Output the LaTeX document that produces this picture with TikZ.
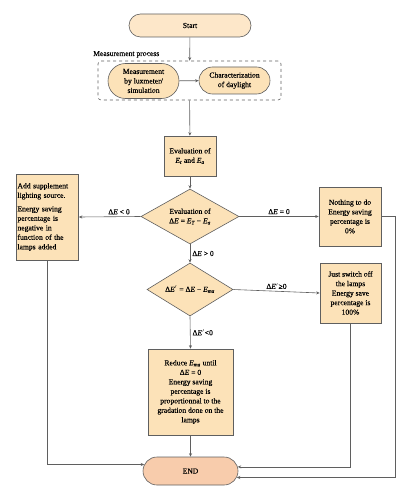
\documentclass[tikz,border=0pt]{standalone}
\usepackage{fontspec}
\setmainfont{Liberation Serif}
\newfontfamily\boxfont{Liberation Serif}[FakeBold=0.35]
\usetikzlibrary{shapes.geometric,shapes.misc,arrows.meta}
\definecolor{boxfill}{RGB}{252,226,184}
\definecolor{startfill}{RGB}{253,231,201}
\definecolor{endfill}{RGB}{248,204,172}
\definecolor{edge}{RGB}{95,95,95}
\newcommand{\en}[1]{\textit{E\textsubscript{#1}}}
\newcommand{\dE}{Δ\textit{E}}
\tikzset{
    flowbox/.style = {draw=edge, fill=boxfill, line width=0.6pt, inner sep=1pt, align=center, font=\boxfont\fontsize{7.6}{9.5}\selectfont},
    roundbox/.style = {flowbox, rounded rectangle},
    testbox/.style = {flowbox, diamond, aspect=1.8, inner sep=0pt},
    arr/.style = {draw=edge, line width=0.6pt, -{Stealth[length=3.5pt,width=3pt]}},
    lbl/.style = {font=\boxfont\fontsize{7.6}{9}\selectfont, inner sep=2pt}
}
\begin{document}
\begin{tikzpicture}[x=1pt,y=-1pt]
        \useasboundingbox (0,0) rectangle (410,500);
        % start and measurement process
        \node[roundbox, fill=startfill, minimum width=124pt, minimum height=23pt] (start) at (190,25.5) {Start};
        \node[lbl, anchor=base west, inner sep=0pt] (proclabel) at (93,56) {Measurement process};
        \node[draw=edge, dashed, line width=0.6pt, rounded corners=3pt, minimum width=183pt, minimum height=39pt] (proc) at (189.5,80.5) {};
        \node[roundbox, minimum width=73pt, minimum height=35pt] (meas) at (143.5,81) {Measurement\\by luxmeter/\\simulation};
        \node[roundbox, minimum width=73pt, minimum height=27pt] (charac) at (234.5,80.5) {Characterization\\of daylight};
        % evaluation and tests
        \node[flowbox, minimum width=52pt, minimum height=40pt] (eval) at (190,156) {Evaluation of\\\en{t} and \en{a}};
        \node[testbox, minimum width=98pt, minimum height=55pt] (test1) at (190,216.5) {Evaluation of\\\dE{} = \en{T} − \en{a}};
        \node[testbox, minimum width=86pt, minimum height=53pt] (test2) at (190,289.5) {\dE$'$ = \dE{} − \en{ma}};
        % outcomes
        \node[flowbox, align=left, text width=60pt, minimum height=86pt] (supply) at (47.5,217) {Add supplement\\lighting source.\\[4pt]Energy saving\\percentage is\\negative in\\function of the\\lamps added};
        \node[flowbox, minimum width=62pt, minimum height=59pt] (nothing) at (350,216.5) {Nothing to do\\Energy saving\\percentage is\\0\%};
        \node[flowbox, minimum width=61pt, minimum height=60pt] (switch) at (350.5,293) {Just switch off\\the lamps\\Energy save\\percentage is\\100\%};
        \node[flowbox, minimum width=85pt, minimum height=86pt] (reduce) at (190.5,392) {Reduce \en{ma} until\\\dE{} = 0\\Energy saving\\percentage is\\proportionnal to the\\gradation done on the\\lamps};
        \node[roundbox, fill=endfill, minimum width=97pt, minimum height=28pt] (end) at (190.5,471) {END};
        \coordinate (rbend) at (395,216.5);
        % connectors
        \draw[arr] (start) -- (proc);
        \draw[arr] (meas) -- (charac);
        \draw[arr] (proc) -- (eval);
        \draw[arr] (eval) -- (test1);
        \draw[arr] (test1.west) -- node[lbl, above, pos=0.35] {\dE{} < 0} (supply.east);
        \draw[arr] (test1.east) -- node[lbl, above] {\dE{} = 0} (nothing.west);
        \draw[arr] (test1.south) -- node[lbl, right] {\dE{} > 0} (test2.north);
        \draw[arr] (test2.east) -- node[lbl, above] {\dE$'$≥0} (switch.west);
        \draw[arr] (test2.south) -- node[lbl, right] {\dE$'$<0} (reduce.north);
        \draw[arr] (reduce) -- (end);
        \draw[arr] (supply.south) |- (end.172); %left box back to the end
        \draw[arr] (switch.south) |- (end.5);
        \draw[arr] (nothing.east) -- (rbend) |- (end.-8);
    \end{tikzpicture}
\end{document}
